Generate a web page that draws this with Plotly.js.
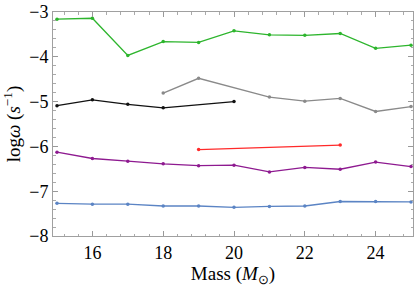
<!DOCTYPE html>
<html>
<head>
<meta charset="utf-8">
<script src="https://cdn.plot.ly/plotly-3.0.1.min.js"></script>
<style>
html,body{margin:0;padding:0;background:#fff}
#chart{width:415px;height:288px}
#chart svg text{font-family:"Liberation Serif","Times New Roman",serif !important;}
</style>
</head>
<body>
<div id="chart"></div>
<script>
var massAll = [15,16,17,18,19,20,21,22,23,24,25];
var greenY  = [-3.16,-3.14,-3.97,-3.66,-3.68,-3.42,-3.51,-3.52,-3.48,-3.81,-3.74];
var blackX  = [15,16,17,18,20];
var blackY  = [-5.09,-4.96,-5.06,-5.14,-5.00];
var grayX   = [18,19,21,22,23,24,25];
var grayY   = [-4.81,-4.48,-4.90,-4.99,-4.93,-5.22,-5.11];
var redX    = [19,23];
var redY    = [-6.07,-5.97];
var purpleY = [-6.13,-6.27,-6.33,-6.39,-6.43,-6.42,-6.57,-6.47,-6.51,-6.35,-6.45];
var blueY   = [-7.27,-7.29,-7.29,-7.33,-7.33,-7.36,-7.34,-7.33,-7.23,-7.23,-7.24];
var xTicks  = [16,18,20,22,24];
var yTicks  = [-8,-7,-6,-5,-4,-3];

function tr(x, y, color) {
  return {x: x, y: y, type: 'scatter', mode: 'lines+markers',
    line: {color: color, width: 1.3}, marker: {color: color, size: 3.5},
    hoverinfo: 'none', showlegend: false};
}
var data = [
  tr(massAll, greenY, '#2db52d'),
  tr(blackX, blackY, '#111111'),
  tr(grayX, grayY, '#8a8a8a'),
  tr(redX, redY, '#ff2a2a'),
  tr(massAll, purpleY, '#8e1a90'),
  tr(massAll, blueY, '#5b84c4')
];
var FAM = 'Liberation Serif';
function f(sz) { return {family: FAM, size: sz, color: '#000'}; }
var layout = {
  width: 415, height: 288,
  margin: {l: 53, r: 2, t: 12, b: 52},
  paper_bgcolor: '#fff', plot_bgcolor: '#fff',
  font: f(18),
  xaxis: {
    range: [14.887, 25.056], tickmode: 'array', tickvals: xTicks,
    ticktext: xTicks.map(String),
    ticks: 'inside', ticklen: 5, tickcolor: '#999', tickwidth: 1,
    minor: {dtick: 0.4, tick0: 16, ticks: 'inside', ticklen: 2.5, tickcolor: '#aaa', showgrid: false},
    showline: true, linecolor: '#a0a0a0', linewidth: 1, mirror: 'allticks',
    showgrid: false, zeroline: false,
    tickfont: f(18),
    title: {text: 'Mass (<i>M</i><sub>⊙</sub>)', font: f(19), standoff: 4}
  },
  yaxis: {
    range: [-8, -3], tickmode: 'array', tickvals: yTicks,
    ticktext: yTicks.map(function(v){return '\u2212' + Math.abs(v);}),
    ticks: 'inside', ticklen: 5, tickcolor: '#999', tickwidth: 1,
    minor: {dtick: 0.2, tick0: -8, ticks: 'inside', ticklen: 2.5, tickcolor: '#aaa', showgrid: false},
    showline: true, linecolor: '#a0a0a0', linewidth: 1, mirror: 'allticks',
    showgrid: false, zeroline: false,
    tickfont: f(18),
    title: {text: 'log<i>ω</i> (<i>s</i><sup>−1</sup>)', font: f(19), standoff: 4}
  }
};
Plotly.newPlot('chart', data, layout, {staticPlot: true, displayModeBar: false});
</script>
</body>
</html>
